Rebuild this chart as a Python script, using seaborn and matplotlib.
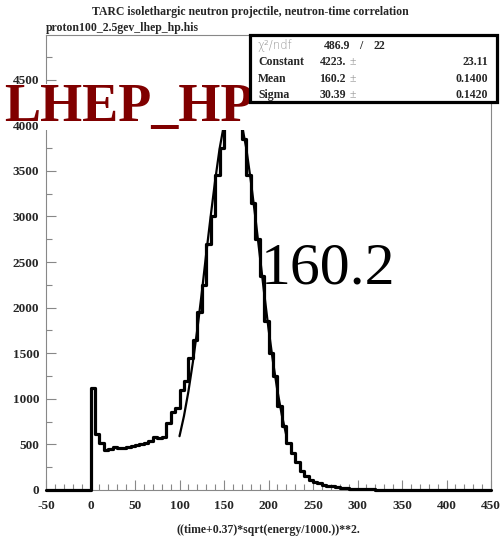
import numpy as np
import pandas as pd
import seaborn as sns
from matplotlib import pyplot as plt
from matplotlib.patches import Rectangle
from matplotlib.ticker import MultipleLocator

sns.set_style("white")
plt.rcParams["font.family"] = ["Liberation Serif", "DejaVu Serif"]
plt.rcParams["axes.unicode_minus"] = False

# histogram: 5-unit bins from -50 to 450
bin_edges = list(range(-50, 455, 5))
counts_neg = [0] * 10
counts_0_50 = [1120, 615, 515, 440, 450, 475, 460, 460, 470, 480]
counts_50_100 = [490, 505, 515, 535, 585, 570, 580, 740, 855, 900]
counts_100_150 = [1100, 1190, 1450, 1650, 1950, 2250, 2700, 3000, 3450, 3750]
counts_150_200 = [4000, 4230, 4200, 4080, 3850, 3450, 3150, 2750, 2350, 1850]
counts_200_250 = [1500, 1250, 920, 700, 520, 410, 310, 210, 150, 110]
counts_250_300 = [90, 75, 60, 45, 40, 32, 25, 20, 16, 13]
counts_300_350 = [11, 9, 7, 6, 5, 5, 4, 4, 3, 3]
counts_350_400 = [3, 2, 2, 2, 2, 2, 1, 1, 1, 1]
counts_400_450 = [1, 1, 1, 1, 1, 1, 1, 1, 1, 1]

# gaussian fit curve
fit_x = [100, 105, 110, 115, 120, 125, 130, 135, 140, 145, 150, 155, 160,
         165, 170, 175, 180, 185, 190, 195, 200, 205, 210, 215, 220]
fit_y = [590, 810, 1080, 1400, 1760, 2160, 2590, 3000, 3390, 3740, 4010, 4170, 4220,
         4170, 4010, 3750, 3400, 3010, 2590, 2170, 1770, 1410, 1090, 820, 600]

stat_names = ["Constant", "Mean", "Sigma"]
stat_values = ["4223.", "160.2", "30.39"]
stat_errors = ["23.11", "0.1400", "0.1420"]
chi2, ndf = "486.9", "22"

counts = (counts_neg + counts_0_50 + counts_50_100 + counts_100_150 + counts_150_200
          + counts_200_250 + counts_250_300 + counts_300_350 + counts_350_400 + counts_400_450)
centers = [e + 2.5 for e in bin_edges[:-1]]
df = pd.DataFrame({"x": centers, "n": counts})

W, H = 501, 537
fig = plt.figure(figsize=(W / 100, H / 100), dpi=100)
ax = fig.add_axes([46 / W, 1 - 490 / H, 445 / W, 455 / H])

sns.histplot(data=df, x="x", weights="n", bins=bin_edges, element="step", fill=False,
             color="black", linewidth=2.3, ax=ax)
sns.lineplot(x=fit_x, y=fit_y, color="black", linewidth=1.6, ax=ax)
for ln in ax.lines:
    ln.set_clip_on(False)
    ln.set_zorder(3)
for coll in ax.collections + ax.patches:
    coll.set_clip_on(False)
    coll.set_zorder(3)

ax.set_xlim(-50, 450)
ax.set_ylim(0, 4990)
ax.set_ylabel("")
ax.set_xlabel("((time+0.37)*sqrt(energy/1000.))**2.", fontsize=8.5, fontweight="bold")
ax.xaxis.set_label_coords(0.5, -0.075)
ax.xaxis.set_major_locator(MultipleLocator(50))
ax.xaxis.set_minor_locator(MultipleLocator(10))
ax.yaxis.set_major_locator(MultipleLocator(500))
ax.yaxis.set_minor_locator(MultipleLocator(250))
ax.tick_params(which="both", direction="in", color="#888888", width=0.8,
               labelsize=9.5, top=False, right=False, bottom=True, left=True)
ax.tick_params(which="major", length=7)
ax.tick_params(axis="x", which="major", pad=7)
ax.tick_params(axis="y", which="major", pad=5)
ax.tick_params(which="minor", length=4)
for lab in ax.get_xticklabels() + ax.get_yticklabels():
    lab.set_fontweight("bold")
for sp in ax.spines.values():
    sp.set_color("#888888")
    sp.set_linewidth(0.8)

fig.text(0.5, 1 - 12 / H, "TARC isolethargic neutron projectile, neutron-time correlation",
         ha="center", va="center", fontsize=8.5, fontweight="bold")
fig.text(46 / W, 1 - 31 / H, "proton100_2.5gev_lhep_hp.his", ha="left", va="baseline",
         fontsize=8.5, fontweight="bold")

# white patch behind the big label hides the top of the peak, as in the original
fig.add_artist(Rectangle((44 / W, 1 - 130 / H), (252 - 44) / W, (130 - 84) / H,
                         transform=fig.transFigure, facecolor="white", edgecolor="none",
                         zorder=3))
fig.text(4 / W, 1 - 121 / H, "LHEP_HP", ha="left", va="baseline", color="#800000",
         fontsize=39, fontweight="bold", zorder=4)

fig.text(261 / W, 1 - 283 / H, "160.2", ha="left", va="baseline", fontsize=43,
         color="black", zorder=4)

# stats box
x0, x1, ytop, ybot = 250, 497, 35, 102
fig.add_artist(Rectangle((x0 / W, 1 - ybot / H), (x1 - x0) / W, (ybot - ytop) / H,
                         transform=fig.transFigure, facecolor="white", edgecolor="black",
                         linewidth=2.3, zorder=5))
row_y = [61, 78, 94]
fig.text(258 / W, 1 - 49 / H, "χ²/ndf", ha="left", va="baseline", fontsize=8.5,
         color="#999999", family="DejaVu Sans", fontweight="light", zorder=6)
fig.text(350 / W, 1 - 49 / H, chi2, ha="right", va="baseline", fontsize=8.5,
         fontweight="bold", zorder=6)
fig.text(361 / W, 1 - 49 / H, "/", ha="center", va="baseline", fontsize=8.5,
         fontweight="bold", zorder=6)
fig.text(385 / W, 1 - 49 / H, ndf, ha="right", va="baseline", fontsize=8.5,
         fontweight="bold", zorder=6)
for name, val, err, y in zip(stat_names, stat_values, stat_errors, row_y):
    fig.text(258 / W, 1 - (y + 4) / H, name, ha="left", va="baseline", fontsize=8.5,
             fontweight="bold", zorder=6)
    fig.text(346 / W, 1 - (y + 4) / H, val, ha="right", va="baseline", fontsize=8.5,
             fontweight="bold", zorder=6)
    fig.text(353 / W, 1 - (y + 4) / H, "±", ha="center", va="baseline", fontsize=8.5,
             color="#999999", zorder=6)
    fig.text(488 / W, 1 - (y + 4) / H, err, ha="right", va="baseline", fontsize=8.5,
             fontweight="bold", zorder=6)

fig.savefig("out.png", dpi=100)
